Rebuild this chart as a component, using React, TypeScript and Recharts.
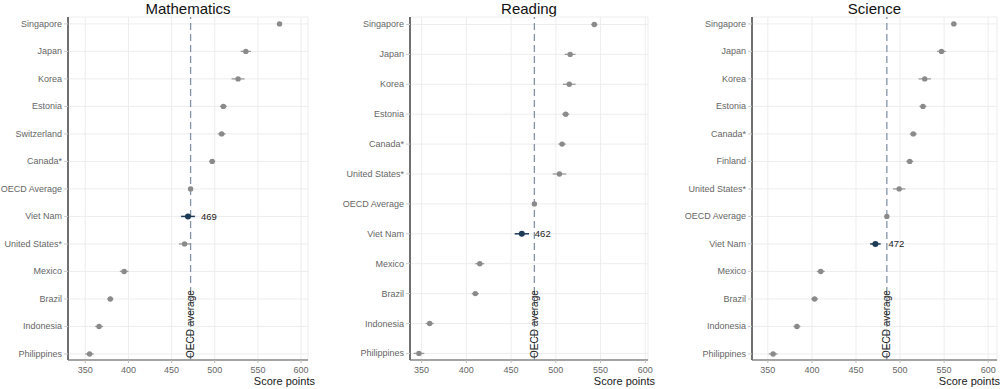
import React from 'react';
import {
  ScatterChart,
  Scatter,
  XAxis,
  YAxis,
  CartesianGrid,
  ErrorBar,
  ReferenceLine,
  Label,
} from 'recharts';

const mathCountries = ['Singapore', 'Japan', 'Korea', 'Estonia', 'Switzerland', 'Canada*', 'OECD Average', 'Viet Nam', 'United States*', 'Mexico', 'Brazil', 'Indonesia', 'Philippines'];
const mathScores = [575, 536, 527, 510, 508, 497, 472, 469, 465, 395, 379, 366, 355];
const mathErrors = [3, 6, 7.5, 4, 4.5, 3.5, 1, 8, 6.5, 5, 3.5, 4.5, 5];

const readingCountries = ['Singapore', 'Japan', 'Korea', 'Estonia', 'Canada*', 'United States*', 'OECD Average', 'Viet Nam', 'Mexico', 'Brazil', 'Indonesia', 'Philippines'];
const readingScores = [543, 516, 515, 511, 507, 504, 476, 462, 415, 410, 359, 347];
const readingErrors = [3.5, 6, 7, 4, 4, 7.5, 1, 8, 5, 4, 4.5, 6];

const scienceCountries = ['Singapore', 'Japan', 'Korea', 'Estonia', 'Canada*', 'Finland', 'United States*', 'OECD Average', 'Viet Nam', 'Mexico', 'Brazil', 'Indonesia', 'Philippines'];
const scienceScores = [561, 547, 528, 526, 515, 511, 499, 485, 472, 410, 403, 383, 356];
const scienceErrors = [3, 5, 7, 4, 4, 4, 7, 1, 6, 4.5, 4, 4, 5];

const xTicks = [350, 400, 450, 500, 550, 600];
const highlight = 'Viet Nam';
const oecdName = 'OECD Average';

const FONT = '"Liberation Sans", Arial, sans-serif';

type PanelProps = {
  title: string;
  countries: string[];
  scores: number[];
  errors: number[];
  left: number;
  width: number;
  yAxisWidth: number;
  rightMargin: number;
  xDomain: [number, number];
};

const Panel = ({ title, countries, scores, errors, left, width, yAxisWidth, rightMargin, xDomain }: PanelProps) => {
  const n = countries.length;
  const rows = countries.map((c, i) => ({ name: c, x: scores[i], y: n - 1 - i, err: errors[i] }));
  const others = rows.filter((r) => r.name !== highlight);
  const hi = rows.filter((r) => r.name === highlight);
  const oecd = scores[countries.indexOf(oecdName)];
  const yTicks = rows.map((r) => r.y);
  const top = 17;
  const bottomAxis = 29;
  const pad = 0.22;
  const plotLeft = yAxisWidth;
  const plotRight = width - rightMargin;

  return (
    <div style={{ position: 'absolute', left, top: 0, width, height: 389 }}>
      <div
        style={{
          position: 'absolute',
          left: plotLeft,
          width: plotRight - plotLeft,
          top: 2,
          lineHeight: '14px',
          textAlign: 'center',
          fontFamily: FONT,
          fontSize: 15,
          color: '#111',
        }}
      >
        {title}
      </div>
      <ScatterChart width={width} height={389} margin={{ top, right: rightMargin, bottom: 0, left: 0 }}>
        <CartesianGrid stroke="#ededed" />
        <XAxis
          type="number"
          dataKey="x"
          domain={xDomain}
          ticks={xTicks}
          allowDataOverflow
          height={bottomAxis}
          tickSize={3}
          tickMargin={4}
          tick={{ fontSize: 9, fill: '#666', fontFamily: FONT }}
          axisLine={{ stroke: '#888', strokeWidth: 1.5 }}
          tickLine={{ stroke: '#bbb' }}
        />
        <YAxis
          type="number"
          dataKey="y"
          domain={[-pad, n - 1 + pad + 0.03]}
          ticks={yTicks}
          allowDataOverflow
          width={yAxisWidth}
          tickSize={4}
          tickMargin={2}
          tick={(p: any) => (
            <text
              x={p.x}
              y={p.y}
              textAnchor="end"
              dominantBaseline="central"
              fontSize={9}
              fontFamily={FONT}
              fill="#666"
            >
              {countries[n - 1 - p.payload.value]}
            </text>
          )}
          axisLine={{ stroke: '#707070', strokeWidth: 2 }}
          tickLine={{ stroke: '#ccc' }}
          interval={0}
        />
        <ReferenceLine
          x={oecd}
          stroke="#8494a8"
          strokeWidth={1.3}
          strokeDasharray="7 4"
        >
          <Label
            content={(props: any) => {
              const vb = props.viewBox || {};
              const x = vb.x;
              const y = (vb.y ?? 0) + (vb.height ?? 0) - 2;
              return (
                <text
                  x={x}
                  y={y}
                  transform={`rotate(-90 ${x} ${y})`}
                  textAnchor="start"
                  dominantBaseline="central"
                  fontSize={10}
                  fontFamily={FONT}
                  fill="#222"
                >
                  OECD average
                </text>
              );
            }}
          />
        </ReferenceLine>
        <Scatter
          data={others}
          isAnimationActive={false}
          shape={(p: any) => <circle cx={p.cx} cy={p.cy} r={2.7} fill="#8a8a8a" />}
        >
          <ErrorBar dataKey="err" direction="x" width={0} stroke="#9a9a9a" strokeWidth={1.3} />
        </Scatter>
        <Scatter
          data={hi}
          isAnimationActive={false}
          shape={(p: any) => (
            <g>
              <circle cx={p.cx} cy={p.cy} r={3} fill="#1d3a57" />
              <text
                x={p.cx + 13}
                y={p.cy}
                dominantBaseline="central"
                fontSize={9.5}
                fontFamily={FONT}
                fill="#222"
              >
                {p.payload?.x}
              </text>
            </g>
          )}
        >
          <ErrorBar dataKey="err" direction="x" width={0} stroke="#1d3a57" strokeWidth={1.5} />
        </Scatter>
      </ScatterChart>
      <div
        style={{
          position: 'absolute',
          right: width === 340 ? 0 : width - plotRight - 7,
          top: 375,
          fontFamily: FONT,
          fontSize: 11,
          color: '#1a1a1a',
          whiteSpace: 'nowrap',
        }}
      >
        Score points
      </div>
    </div>
  );
};

const App = () => {
  return (
    <div style={{ position: 'absolute', left: 0, top: 0, width: 1000, height: 389, background: '#fff', overflow: 'hidden' }}>
      <Panel
        title="Mathematics"
        countries={mathCountries}
        scores={mathScores}
        errors={mathErrors}
        left={0}
        width={330}
        yAxisWidth={68}
        rightMargin={22}
        xDomain={[330, 608]}
      />
      <Panel
        title="Reading"
        countries={readingCountries}
        scores={readingScores}
        errors={readingErrors}
        left={330}
        width={330}
        yAxisWidth={80}
        rightMargin={12}
        xDomain={[337, 603]}
      />
      <Panel
        title="Science"
        countries={scienceCountries}
        scores={scienceScores}
        errors={scienceErrors}
        left={660}
        width={340}
        yAxisWidth={92}
        rightMargin={3}
        xDomain={[332, 610]}
      />
    </div>
  );
};

export default App;
